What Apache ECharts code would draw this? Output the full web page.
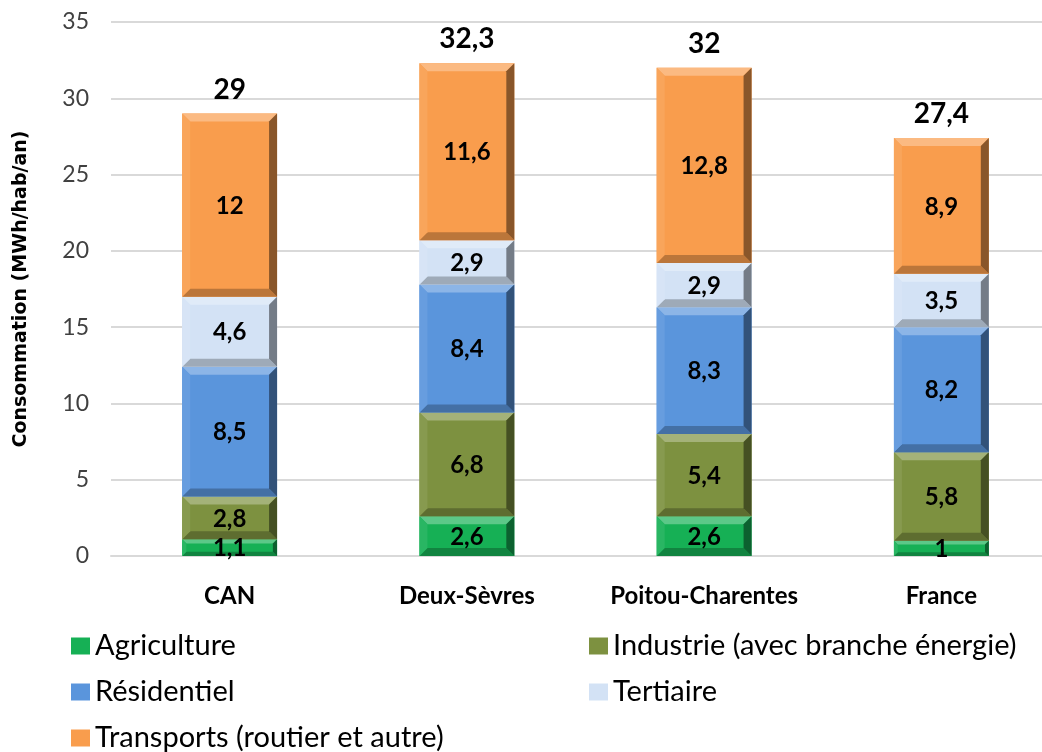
<!DOCTYPE html>
<html>
<head>
<meta charset="utf-8">
<script src="https://cdn.jsdelivr.net/npm/echarts@6/dist/echarts.min.js"></script>
<style>
    html, body { margin: 0; padding: 0; overflow: hidden; background: #fff; }
    #chart { width: 1060px; height: 752px; }
</style>
</head>
<body>
<div id="chart"></div>
<script>
    // données (MWh/hab/an)
    const categories = ['CAN', 'Deux-Sèvres', 'Poitou-Charentes', 'France'];
    const agriculture = [1.1, 2.6, 2.6, 1];
    const industrie = [2.8, 6.8, 5.4, 5.8];
    const residentiel = [8.5, 8.4, 8.3, 8.2];
    const tertiaire = [4.6, 2.9, 2.9, 3.5];
    const transports = [12, 11.6, 12.8, 8.9];
    const totals = [29, 32.3, 32, 27.4];

    const names = ['Agriculture', 'Industrie (avec branche énergie)', 'Résidentiel', 'Tertiaire', 'Transports (routier et autre)'];
    const values = [agriculture, industrie, residentiel, tertiaire, transports];
    const colors = ['#16b055', '#7d9140', '#5a95dc', '#d3e2f5', '#f99d4d'];

    const FONT = 'Lato, "Open Sans", sans-serif';

    function mix(hex, target, t) {
        const a = parseInt(hex.slice(1), 16), b = parseInt(target.slice(1), 16);
        const ch = (v, s) => (v >> s) & 255;
        const r = [16, 8, 0].map(s => Math.round(ch(a, s) + (ch(b, s) - ch(a, s)) * t));
        return 'rgb(' + r.join(',') + ')';
    }

    function fmt(v) {
        return String(v).replace('.', ',');
    }

    // barre en relief façon Excel
    function bevelItem(base) {
        const cTop = mix(base, '#ffffff', 0.3);
        const cLeft = mix(base, '#ffffff', 0.08);
        const cBottom = mix(base, '#000000', 0.25);
        const cRight = mix(base, '#000000', 0.45);
        return function (params, api) {
            const cat = api.value(0);
            const p0 = api.coord([cat, api.value(1)]);
            const p1 = api.coord([cat, api.value(2)]);
            const w = api.size([1, 0])[0] * 0.4;
            const x0 = p0[0] - w / 2, x1 = x0 + w;
            const yb = p0[1], yt = p1[1];
            const h = yb - yt;
            const b = Math.min(8, h * 0.25, w * 0.2);
            return {
                type: 'group',
                children: [
                    { type: 'rect', shape: { x: x0, y: yt, width: w, height: h }, style: { fill: base } },
                    { type: 'polygon', shape: { points: [[x0, yt], [x1, yt], [x1 - b, yt + b], [x0 + b, yt + b]] }, style: { fill: cTop } },
                    { type: 'polygon', shape: { points: [[x0, yb], [x1, yb], [x1 - b, yb - b], [x0 + b, yb - b]] }, style: { fill: cBottom } },
                    { type: 'polygon', shape: { points: [[x0, yt], [x0 + b, yt + b], [x0 + b, yb - b], [x0, yb]] }, style: { fill: cLeft } },
                    { type: 'polygon', shape: { points: [[x1, yt], [x1 - b, yt + b], [x1 - b, yb - b], [x1, yb]] }, style: { fill: cRight } },
                    {
                        type: 'text', z2: 100,
                        style: {
                            x: p0[0], y: (yt + yb) / 2 + 1, text: fmt(api.value(3)),
                            fill: '#000', font: 'bold 24px ' + FONT,
                            align: 'center', verticalAlign: 'middle',
                            textAlign: 'center', textVerticalAlign: 'middle'
                        }
                    }
                ]
            };
        };
    }

    const series = [];
    const cumul = categories.map(() => 0);
    names.forEach((name, k) => {
        const data = categories.map((c, i) => {
            const lo = cumul[i];
            cumul[i] += values[k][i];
            return [i, lo, cumul[i], values[k][i]];
        });
        series.push({
            name: name,
            type: 'custom',
            itemStyle: { color: colors[k] },
            encode: { x: 0, y: [1, 2] },
            renderItem: bevelItem(colors[k]),
            data: data
        });
    });

    series.push({
        name: 'Total',
        type: 'custom',
        encode: { x: 0, y: 1 },
        renderItem: function (params, api) {
            const p = api.coord([api.value(0), api.value(1)]);
            return {
                type: 'text', z2: 100,
                style: {
                    x: p[0], y: p[1] - 24, text: fmt(api.value(1)),
                    fill: '#000', font: 'bold 28px ' + FONT,
                    align: 'center', verticalAlign: 'middle',
                    textAlign: 'center', textVerticalAlign: 'middle'
                }
            };
        },
        data: totals.map((t, i) => [i, t])
    });

    // une légende par entrée, deux colonnes comme dans Excel
    const legendPos = [[71, 646], [589, 646], [71, 692], [589, 692], [71, 738]];
    const legends = names.map((n, k) => ({
        left: legendPos[k][0], top: legendPos[k][1] - 15,
        itemWidth: 19, itemHeight: 17, icon: 'rect', padding: 0,
        textStyle: { fontSize: 29, fontFamily: FONT, color: '#000', lineHeight: 30 },
        data: [n]
    }));

    const option = {
        animation: false,
        grid: { left: 111, right: 0, top: 22, bottom: 196 },
        legend: legends,
        xAxis: {
            type: 'category',
            data: categories,
            axisLine: { lineStyle: { color: '#d9d9d9', width: 2 } },
            axisTick: { show: false },
            axisLabel: { interval: 0, color: '#000', fontWeight: 'bold', fontSize: 24, fontFamily: FONT, margin: 28 }
        },
        yAxis: {
            type: 'value',
            min: 0, max: 35, interval: 5,
            name: 'Consommation (MWh/hab/an)',
            nameLocation: 'middle',
            nameGap: 80,
            nameTextStyle: { color: '#000', fontWeight: 'bold', fontSize: 19, fontFamily: '"DejaVu Sans", sans-serif' },
            axisLine: { show: false },
            axisTick: { show: false },
            axisLabel: { color: '#404040', fontSize: 23, fontFamily: FONT, margin: 22 },
            splitLine: { lineStyle: { color: '#d9d9d9', width: 2 } }
        },
        series: series
    };

    const myChart = echarts.init(document.getElementById('chart'));
    myChart.setOption(option);
</script>
</body>
</html>
